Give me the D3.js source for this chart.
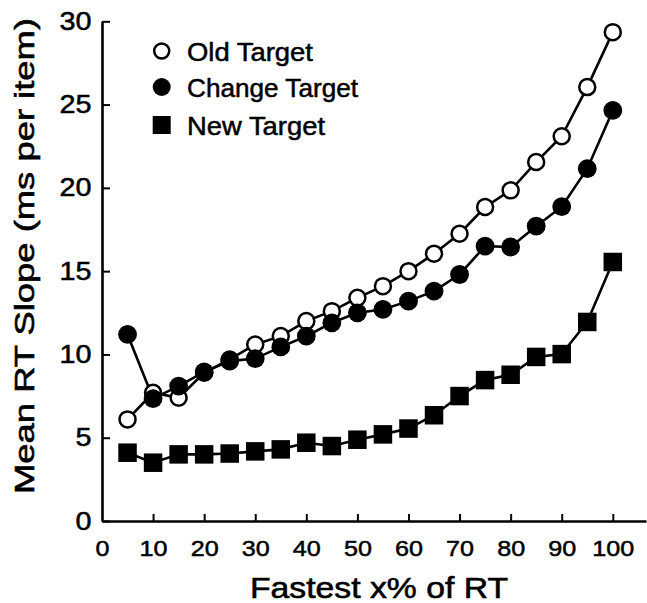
<!DOCTYPE html>
<html>
<head>
<meta charset="utf-8">
<script src="https://cdn.jsdelivr.net/npm/d3@7"></script>
<style>
  html, body { margin: 0; padding: 0; background: #fff; }
  svg { display: block; }
  text { font-family: "Liberation Sans", Arial, Helvetica, sans-serif; fill: #000; }
</style>
</head>
<body>
<svg id="chart" width="647" height="603"></svg>
<script>
// ---- data ----
const fastestPct = [5, 10, 15, 20, 25, 30, 35, 40, 45, 50, 55, 60, 65, 70, 75, 80, 85, 90, 95, 100];
const oldTarget = [6.1, 7.7, 7.4, 8.9, 9.7, 10.6, 11.1, 12.0, 12.6, 13.4, 14.1, 15.0, 16.05, 17.25, 18.85, 19.85, 21.55, 23.1, 26.05, 29.35];
const changeTarget = [11.2, 7.35, 8.1, 8.95, 9.6, 9.75, 10.45, 11.1, 11.9, 12.5, 12.7, 13.2, 13.8, 14.8, 16.5, 16.45, 17.7, 18.87, 21.15, 24.65];
const newTarget = [4.1, 3.5, 4.0, 4.0, 4.05, 4.18, 4.3, 4.7, 4.5, 4.88, 5.2, 5.55, 6.35, 7.5, 8.46, 8.78, 9.85, 10.02, 11.95, 15.55];
const xTickValues = [0, 10, 20, 30, 40, 50, 60, 70, 80, 90, 100];
const yTickValues = [0, 5, 10, 15, 20, 25, 30];
const seriesNames = ["Old Target", "Change Target", "New Target"];
const xTitle = "Fastest x% of RT";
const yTitle = "Mean RT Slope (ms per item)";

// ---- chart ----
const svg = d3.select("#chart");
const x = d3.scaleLinear().domain([0, 106.5]).range([102, 646]);
const y = d3.scaleLinear().domain([0, 30]).range([521, 21.3]);

const ink = "#000";
const lw = 2.6;

// axes
const xAxis = d3.axisBottom(x).tickValues(xTickValues).tickSizeInner(-7).tickSizeOuter(0).tickPadding(19);
const gx = svg.append("g").attr("transform", `translate(0,${y(0)})`).call(xAxis);
gx.select(".domain").attr("stroke", ink).attr("stroke-width", lw);
gx.selectAll(".tick line").attr("stroke", ink).attr("stroke-width", 2);
gx.selectAll(".tick text")
  .attr("font-size", 22).attr("font-family", null)
  .attr("stroke", ink).attr("stroke-width", 0.5)
  .attr("textLength", d => String(d).length * 14)
  .attr("lengthAdjust", "spacingAndGlyphs");
gx.selectAll(".tick").filter(d => d === 0).select("line").remove();

const yAxis = d3.axisLeft(y).tickValues(yTickValues).tickSizeInner(-8).tickSizeOuter(0).tickPadding(10.5);
const gy = svg.append("g").attr("transform", `translate(${x(0)},0)`).call(yAxis);
gy.select(".domain").attr("stroke", ink).attr("stroke-width", lw);
gy.selectAll(".tick line").attr("stroke", ink).attr("stroke-width", 2);
gy.selectAll(".tick text")
  .attr("font-size", 25).attr("font-family", null)
  .attr("stroke", ink).attr("stroke-width", 0.5)
  .attr("textLength", d => String(d).length * 16)
  .attr("lengthAdjust", "spacingAndGlyphs");

// titles
svg.append("text")
  .attr("x", 379).attr("y", 598)
  .attr("text-anchor", "middle")
  .attr("font-size", 30)
  .attr("stroke", ink).attr("stroke-width", 0.6)
  .attr("textLength", 258).attr("lengthAdjust", "spacingAndGlyphs")
  .text(xTitle);

svg.append("text")
  .attr("transform", "translate(34,256) rotate(-90)")
  .attr("text-anchor", "middle")
  .attr("font-size", 28)
  .attr("stroke", ink).attr("stroke-width", 0.6)
  .attr("textLength", 476).attr("lengthAdjust", "spacingAndGlyphs")
  .text(yTitle);

// series
const line = d3.line().x(d => x(d[0])).y(d => y(d[1]));
const toPts = vals => fastestPct.map((p, i) => [p, vals[i]]);
const oldPts = toPts(oldTarget), chgPts = toPts(changeTarget), newPts = toPts(newTarget);

const plot = svg.append("g");
[newPts, oldPts, chgPts].forEach(pts => {
  plot.append("path").datum(pts).attr("d", line)
    .attr("fill", "none").attr("stroke", ink).attr("stroke-width", lw);
});

// squares
const sq = 18.5;
plot.selectAll("rect.new").data(newPts).join("rect").attr("class", "new")
  .attr("x", d => x(d[0]) - sq / 2).attr("y", d => y(d[1]) - sq / 2)
  .attr("width", sq).attr("height", sq).attr("fill", ink);

// old (open)
plot.selectAll("circle.old").data(oldPts).join("circle").attr("class", "old")
  .attr("cx", d => x(d[0])).attr("cy", d => y(d[1])).attr("r", 8)
  .attr("fill", "#fff").attr("stroke", ink).attr("stroke-width", 2.5);

// change (filled)
plot.selectAll("circle.chg").data(chgPts).join("circle").attr("class", "chg")
  .attr("cx", d => x(d[0])).attr("cy", d => y(d[1])).attr("r", 9.4)
  .attr("fill", ink);

// legend
const leg = svg.append("g");
const legX = 161.7, legY = [51, 87, 125], legTextX = 187, legLen = [126, 171, 138];
leg.append("circle").attr("cx", legX).attr("cy", legY[0]).attr("r", 7.5)
  .attr("fill", "#fff").attr("stroke", ink).attr("stroke-width", 2.5);
leg.append("circle").attr("cx", legX).attr("cy", legY[1]).attr("r", 9).attr("fill", ink);
leg.append("rect").attr("x", legX - 9).attr("y", legY[2] - 9).attr("width", 18).attr("height", 18).attr("fill", ink);
seriesNames.forEach((name, i) => {
  leg.append("text")
    .attr("x", legTextX).attr("y", legY[i] + 9.5)
    .attr("font-size", 25)
    .attr("stroke", ink).attr("stroke-width", 0.5)
    .attr("textLength", legLen[i]).attr("lengthAdjust", "spacingAndGlyphs")
    .text(name);
});
</script>
</body>
</html>
